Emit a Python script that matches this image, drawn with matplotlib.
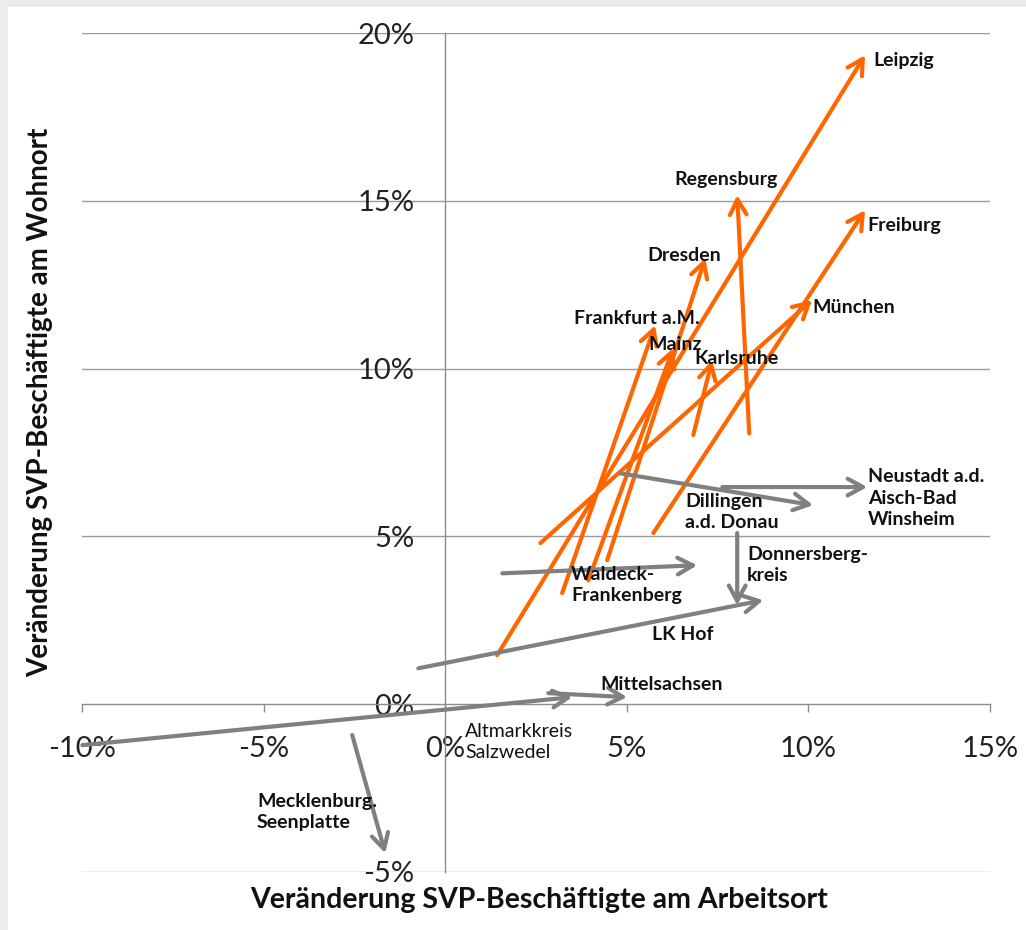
import matplotlib
matplotlib.use('Agg')
import matplotlib.pyplot as plt
from matplotlib.patches import Rectangle

plt.rcParams['font.family'] = ['Lato', 'DejaVu Sans']

# Veraenderung in % : Arbeitsort (x), Wohnort (y), Start -> Ende
names = ['Leipzig', 'Regensburg', 'Freiburg', 'Dresden', 'Frankfurt a.M.', 'Mainz',
         'Karlsruhe', 'München',
         'Neustadt a.d.\nAisch-Bad\nWinsheim', 'Dillingen\na.d. Donau', 'Donnersberg-\nkreis',
         'Waldeck-\nFrankenberg', 'LK Hof', 'Mittelsachsen', 'Altmarkkreis\nSalzwedel',
         'Mecklenburg.\nSeenplatte']
x_start = [1.43, 8.37, 5.73, 4.46, 3.22, 3.94, 6.83, 2.62,
           7.63, 4.82, 8.04, 1.57, -0.74, 2.84, -9.99, -2.56]
y_start = [1.46, 8.07, 5.10, 4.29, 3.31, 3.69, 8.02, 4.80,
           6.47, 6.88, 5.10, 3.90, 1.07, 0.33, -1.22, -0.92]
x_end = [11.56, 8.04, 11.56, 7.16, 5.78, 6.28, 7.35, 10.10,
         11.62, 10.13, 8.04, 6.94, 8.76, 5.01, 3.50, -1.65]
y_end = [19.34, 15.17, 14.72, 13.29, 11.29, 10.61, 10.25, 12.04,
         6.47, 5.93, 2.95, 4.14, 3.10, 0.21, 0.21, -4.44]
growth = [True] * 8 + [False] * 8

# label placement (left edge, vertical centre)
lab_x = [11.78, 6.30, 11.62, 5.56, 3.55, 5.59, 6.86, 10.10,
         11.65, 6.61, 8.31, 3.47, 5.70, 4.27, 0.55, -5.18]
lab_y = [19.19, 15.64, 14.27, 13.38, 11.50, 10.73, 10.31, 11.83,
         6.14, 5.72, 4.14, 3.55, 2.09, 0.60, -1.13, -3.22]

xticks = [-10, -5, 0, 5, 10, 15]
yticks = [-5, 0, 5, 10, 15, 20]

W, H = 1026, 930
fig = plt.figure(figsize=(W / 100, H / 100), dpi=100, facecolor='#ececec')
fig.patches.append(Rectangle((8 / W, 0), 1, 1 - 7 / H, transform=fig.transFigure,
                             facecolor='white', edgecolor='none', zorder=-5))
ax = fig.add_axes([82 / W, 1 - 872 / H, (990 - 82) / W, (872 - 33) / H])
ax.set_facecolor('none')
ax.set_xlim(-10, 15)
ax.set_ylim(-5, 20)

for s in ['top', 'right']:
    ax.spines[s].set_visible(False)
ax.spines['left'].set_position(('data', 0))
ax.spines['bottom'].set_position(('data', 0))
for s in ['left', 'bottom']:
    ax.spines[s].set_color('#8c8c8c')
    ax.spines[s].set_linewidth(1.0)

ax.set_xticks(xticks)
ax.set_yticks(yticks)
ax.set_xticklabels([f'{t}%' for t in xticks])
ax.set_yticklabels([f'{t}%' for t in yticks])
ax.tick_params(axis='x', direction='out', length=6, width=1, color='#8c8c8c',
               pad=17, labelsize=21, labelcolor='#222222')
ax.tick_params(axis='y', length=0, pad=22, labelsize=21, labelcolor='#222222')
for t in yticks:
    if t != 0:
        ax.axhline(t, color='#9a9a9a', lw=1.0, zorder=1)

for i in range(len(names)):
    col = '#ff6600' if growth[i] else '#808080'
    ax.annotate('', xy=(x_end[i], y_end[i]), xytext=(x_start[i], y_start[i]),
                arrowprops=dict(arrowstyle='->,head_length=0.55,head_width=0.3',
                                color=col, lw=3, shrinkA=0, shrinkB=0,
                                mutation_scale=20), zorder=3)
    weight = 'normal' if names[i].startswith('Altmark') else 'bold'
    ax.text(lab_x[i], lab_y[i], names[i], ha='left', va='center', fontsize=14,
            fontweight=weight, color='#111111', linespacing=1.3, zorder=4)

fig.text(539 / W, 1 - 900 / H, 'Veränderung SVP-Beschäftigte am Arbeitsort',
         ha='center', va='center', fontsize=20.5, fontweight='bold', color='#111111')
fig.text(40 / W, 1 - 402 / H, 'Veränderung SVP-Beschäftigte am Wohnort',
         ha='center', va='center', rotation=90, fontsize=20, fontweight='bold',
         color='#111111')

fig.savefig('out.png', dpi=100, facecolor=fig.get_facecolor())
